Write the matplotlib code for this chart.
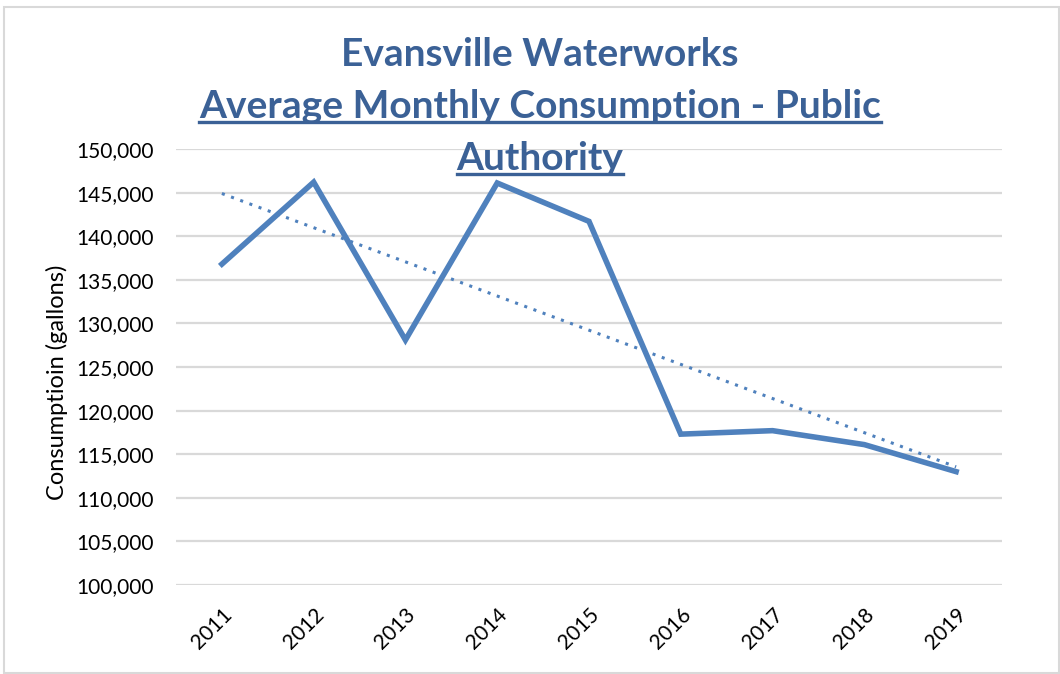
#!/usr/bin/env python3
import numpy as np
import matplotlib
matplotlib.use("Agg")
import matplotlib.pyplot as plt
from matplotlib.patches import Rectangle
from matplotlib.ticker import FuncFormatter, MultipleLocator

years = ["2011", "2012", "2013", "2014", "2015", "2016", "2017", "2018", "2019"]
consumption = [136800, 146200, 128100, 146100, 141700, 117300, 117700, 116100, 113000]

LINE_COLOR = "#4F81BD"
TITLE_COLOR = "#3B6196"
GRID_COLOR = "#D9D9D9"

plt.rcParams["font.family"] = ["Lato", "DejaVu Sans"]


def main():
    fig = plt.figure(figsize=(10.6, 6.74), dpi=100)
    ax = fig.add_axes([176 / 1060, 1 - 585 / 674, (1002 - 176) / 1060, (585 - 149) / 674])

    x = np.arange(len(years))
    y = np.array(consumption, dtype=float)

    # линейный тренд (как в Excel)
    k, b = np.polyfit(x, y, 1)
    ax.plot(x, k * x + b, color=LINE_COLOR, linestyle=(0, (1, 2.2)),
            linewidth=2.2, zorder=3)
    ax.plot(x, y, color=LINE_COLOR, linewidth=4, solid_joinstyle="miter", zorder=4)

    ax.set_xlim(-0.5, len(years) - 0.5)
    ax.set_ylim(100000, 150000)
    ax.yaxis.set_major_locator(MultipleLocator(5000))
    ax.yaxis.set_major_formatter(FuncFormatter(lambda v, p: f"{int(v):,}"))
    ax.set_xticks(x)
    ax.set_xticklabels(years, rotation=45, ha="right", rotation_mode="anchor")
    ax.tick_params(axis="both", length=0, labelsize=15, colors="black")
    ax.tick_params(axis="y", pad=16)
    ax.tick_params(axis="x", pad=14)
    ax.grid(axis="y", color=GRID_COLOR, linewidth=1.6)
    ax.set_axisbelow(True)
    for s in ax.spines.values():
        s.set_visible(False)

    ax.set_ylabel("Consumptioin (gallons)", fontsize=17)
    ax.yaxis.set_label_coords(-0.131, 0.466)

    # заголовок из трёх строк, две нижние подчёркнуты
    lines = [
        ("Evansville Waterworks", 55, False),
        ("Average Monthly Consumption - Public", 107, True),
        ("Authority", 159, True),
    ]
    texts = []
    for txt, ypix, underline in lines:
        t = fig.text(540 / 1060, 1 - ypix / 674, txt, ha="center", va="center",
                     fontsize=28, fontweight="bold", color=TITLE_COLOR)
        texts.append((t, underline))

    fig.canvas.draw()
    renderer = fig.canvas.get_renderer()
    W, H = fig.bbox.width, fig.bbox.height
    for t, underline in texts:
        if not underline:
            continue
        bb = t.get_window_extent(renderer)
        yline = bb.y0 + 3
        fig.add_artist(plt.Line2D([bb.x0 / W, bb.x1 / W], [yline / H, yline / H],
                                  color=TITLE_COLOR, linewidth=2.4))

    fig.add_artist(Rectangle((4 / 1060, 0.002), 1 - 5 / 1060, 1 - 8 / 674,
                             transform=fig.transFigure, fill=False,
                             edgecolor="#D9D9D9", linewidth=1.5))

    fig.savefig("out.png", dpi=100)
    plt.close(fig)


if __name__ == "__main__":
    main()
